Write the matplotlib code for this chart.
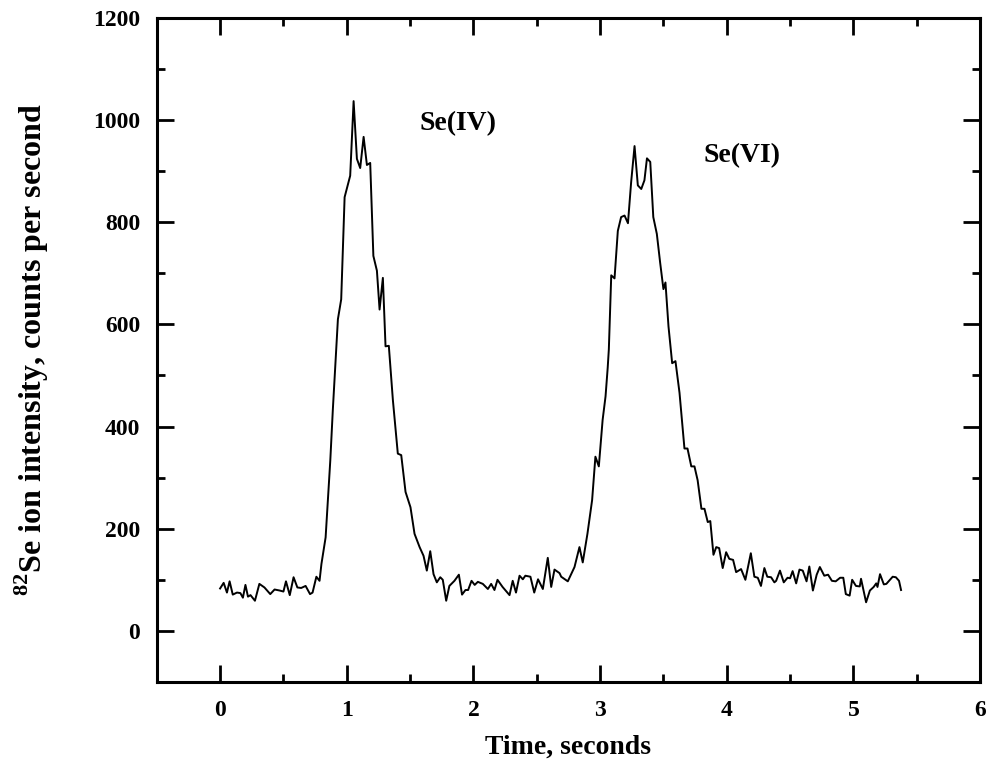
import matplotlib
matplotlib.use("Agg")
import matplotlib.pyplot as plt
from matplotlib.ticker import MultipleLocator

# ---- data (time in s, counts per second) ----
time_s = [
    0.00, 0.028, 0.054, 0.075, 0.10, 0.133, 0.16, 0.18, 0.20, 0.22,
    0.24, 0.275, 0.31, 0.35, 0.396, 0.43, 0.47, 0.50, 0.52, 0.55,
    0.58, 0.61, 0.64, 0.675, 0.71, 0.73, 0.76, 0.785, 0.80, 0.833,
    0.851, 0.87, 0.89, 0.93, 0.956, 0.983, 1.027, 1.054, 1.08, 1.106,
    1.133, 1.159, 1.185, 1.21, 1.238, 1.259, 1.285, 1.306, 1.332, 1.364,
    1.403, 1.43, 1.464, 1.503, 1.535, 1.575, 1.606, 1.632, 1.659, 1.685,
    1.711, 1.738, 1.758, 1.785, 1.81, 1.85, 1.885, 1.91, 1.937, 1.958,
    1.985, 2.01, 2.035, 2.074, 2.114, 2.14, 2.166, 2.19, 2.23, 2.285,
    2.31, 2.336, 2.364, 2.39, 2.41, 2.45, 2.48, 2.51, 2.548, 2.587,
    2.614, 2.64, 2.68, 2.693, 2.745, 2.798, 2.837, 2.863, 2.90, 2.937,
    2.963, 2.99, 3.02, 3.043, 3.06, 3.069, 3.088, 3.114, 3.14, 3.166,
    3.193, 3.22, 3.245, 3.272, 3.298, 3.325, 3.35, 3.37, 3.396, 3.42,
    3.448, 3.474, 3.50, 3.516, 3.54, 3.569, 3.595, 3.627, 3.666, 3.69,
    3.72, 3.745, 3.77, 3.80, 3.824, 3.85, 3.87, 3.895, 3.917, 3.94,
    3.968, 3.995, 4.02, 4.05, 4.074, 4.113, 4.147, 4.19, 4.218, 4.245,
    4.27, 4.297, 4.32, 4.35, 4.376, 4.39, 4.42, 4.45, 4.48, 4.50,
    4.52, 4.548, 4.574, 4.60, 4.63, 4.652, 4.68, 4.71, 4.735, 4.77,
    4.80, 4.83, 4.86, 4.895, 4.92, 4.94, 4.97, 4.99, 5.02, 5.05,
    5.06, 5.10, 5.13, 5.16, 5.18, 5.19, 5.21, 5.24, 5.26, 5.31,
    5.335, 5.36, 5.376,
]
counts = [
    83, 94, 75, 97, 71, 75, 74, 65, 90, 67,
    70, 59, 92, 85, 72, 81, 79, 77, 97, 70,
    105, 85, 84, 88, 72, 75, 106, 98, 131, 183,
    256, 334, 433, 610, 649, 849, 891, 1037, 924, 906,
    967, 912, 916, 734, 705, 629, 691, 557, 558, 452,
    347, 344, 272, 242, 190, 164, 147, 118, 156, 111,
    95, 105, 100, 59, 88, 98, 110, 71, 80, 80,
    98, 90, 96, 92, 82, 92, 80, 100, 86, 70,
    98, 75, 108, 101, 108, 106, 75, 101, 82, 143,
    86, 120, 113, 106, 97, 125, 164, 134, 190, 256,
    341, 322, 413, 459, 515, 551, 696, 690, 783, 810,
    813, 798, 878, 949, 872, 865, 882, 925, 918, 810,
    777, 721, 669, 682, 596, 524, 528, 466, 357, 357,
    322, 322, 295, 239, 239, 213, 215, 149, 164, 162,
    123, 154, 141, 139, 115, 121, 100, 152, 106, 104,
    88, 123, 106, 105, 95, 98, 118, 95, 104, 103,
    117, 93, 120, 118, 97, 126, 79, 110, 125, 108,
    110, 98, 97, 104, 104, 72, 69, 100, 88, 87,
    102, 56, 79, 86, 93, 86, 111, 91, 92, 106,
    105, 98, 80,
]

peak_labels = ["Se(IV)", "Se(VI)"]
peak_label_pos = [(1.875, 993), (4.12, 930)]

# ---- style ----
plt.rcParams['font.family'] = ['Liberation Serif', 'DejaVu Serif']
plt.rcParams['font.weight'] = 'bold'
plt.rcParams['mathtext.fontset'] = 'custom'
plt.rcParams['mathtext.rm'] = 'Liberation Serif:bold'
plt.rcParams['mathtext.bf'] = 'Liberation Serif:bold'

fig = plt.figure(figsize=(9.86, 7.66), dpi=100)
ax = fig.add_axes([0.159, 0.1097, 0.835, 0.867])

ax.plot(time_s, counts, color='black', lw=1.4)

for txt, (x, y) in zip(peak_labels, peak_label_pos):
    ax.text(x, y, txt, fontsize=20, fontweight='bold', ha='center', va='center')

ax.set_xlim(-0.5, 6)
ax.set_ylim(-100, 1200)
ax.xaxis.set_major_locator(MultipleLocator(1))
ax.xaxis.set_minor_locator(MultipleLocator(0.5))
ax.yaxis.set_major_locator(MultipleLocator(200))
ax.yaxis.set_minor_locator(MultipleLocator(100))

ax.tick_params(which='both', direction='in', top=True, right=True, width=2)
ax.tick_params(which='major', length=12, labelsize=17)
ax.tick_params(which='minor', length=6)
ax.tick_params(axis='x', which='major', pad=13)
ax.tick_params(axis='y', which='major', pad=12)
for lab in ax.get_xticklabels() + ax.get_yticklabels():
    lab.set_fontweight('bold')
for sp in ax.spines.values():
    sp.set_linewidth(2.2)

ax.set_xlabel('Time, seconds', fontsize=20, fontweight='bold', labelpad=10)
ax.set_ylabel(r'$^{82}$Se ion intensity, counts per second', fontsize=23,
              fontweight='bold', labelpad=30)

fig.savefig('out.png', dpi=100)
